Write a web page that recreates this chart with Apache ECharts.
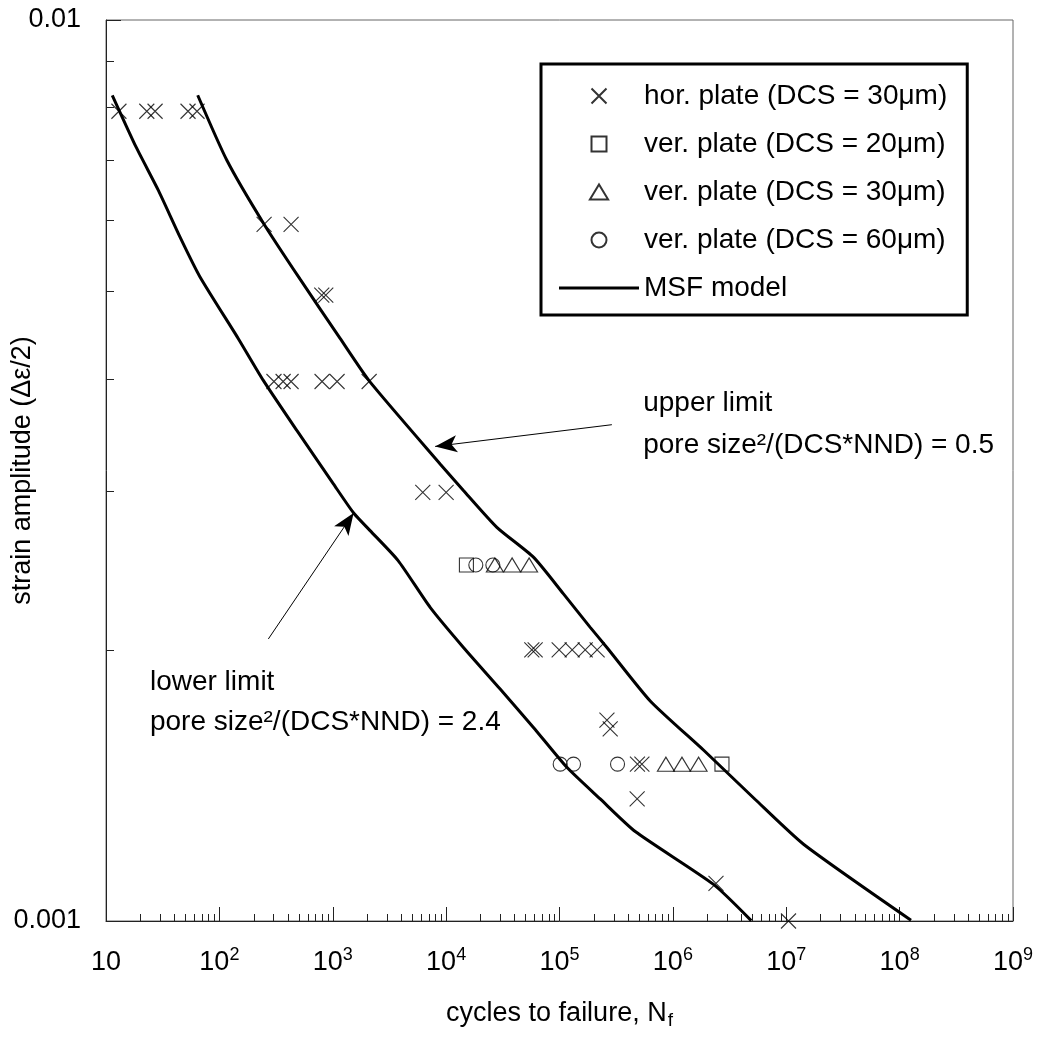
<!DOCTYPE html>
<html><head><meta charset="utf-8">
<script src="https://cdn.jsdelivr.net/npm/echarts@6/dist/echarts.min.js"></script>
<style>html,body{margin:0;padding:0;background:#fff}#c{width:1042px;height:1057px}</style>
</head><body><div id="c"></div>
<script>
// ---- data (cycles to failure N_f, strain amplitude) ----
const horN   = [13.0, 22.9, 27.1, 52.9, 63.5, 248, 429, 800, 868, 303, 365, 429, 805, 1092, 2094, 6223, 10000,
                57000, 61000, 99300, 129300, 168500, 214700, 262000, 280000, 487000, 533000, 484000, 2.4e6, 1.047e7];
const horAmp = [0.00792, 0.00792, 0.00792, 0.00792, 0.00792, 0.00593, 0.00593, 0.00495, 0.00495,
                0.00397, 0.00397, 0.00397, 0.00397, 0.00397, 0.00397, 0.00299, 0.00299,
                0.0020, 0.0020, 0.0020, 0.0020, 0.0020, 0.0020, 0.001671, 0.001634, 0.001493, 0.001493,
                0.001366, 0.001101, 0.001];
const ver20N   = [15100, 2.71e6];
const ver20Amp = [0.002484, 0.001493];
const ver30N   = [26900, 38200, 53950, 868000, 1.203e6, 1.686e6];
const ver30Amp = [0.002484, 0.002484, 0.002484, 0.001493, 0.001493, 0.001493];
const ver60N   = [18280, 25830, 101400, 132900, 325000];
const ver60Amp = [0.002484, 0.002484, 0.001493, 0.001493, 0.001493];

// MSF model, upper limit (pore size^2/(DCS*NND) = 0.5)
const upperN   = [64.4, 116.1, 247.8, 515, 1161, 2105, 8851, 14210, 28020, 58900, 108400, 186600,
                  261800, 631000, 1.891e6, 5.3e6, 1.43e7, 1.26e8];
const upperAmp = [0.00825, 0.006992, 0.005934, 0.005156, 0.004432, 0.003974, 0.003216, 0.003005, 0.002735,
                  0.002534, 0.002307, 0.002118, 0.002012, 0.001755, 0.001545, 0.001365, 0.001216, 0.001002];
// MSF model, lower limit (pore size^2/(DCS*NND) = 2.4)
const lowerN   = [11.36, 18.5, 28.9, 45.0, 67.5, 147, 244, 482, 1013, 1528, 2135, 3772, 7228, 14210, 29960,
                  58900, 116100, 228600, 465700, 2.284e6, 4.91e6];
const lowerAmp = [0.00825, 0.00722, 0.006474, 0.005742, 0.005186, 0.004429, 0.003981, 0.003503, 0.003056,
                  0.002837, 0.002712, 0.002512, 0.002229, 0.002012, 0.001809, 0.001640, 0.001481, 0.001366,
                  0.001257, 0.001098, 0.001001];

// axis ticks
const xTickLabels = ['10', '10{s|2}', '10{s|3}', '10{s|4}', '10{s|5}', '10{s|6}', '10{s|7}', '10{s|8}', '10{s|9}'];
const yTickLabels = ['0.001', '0.01'];
const xMinorTicks = [];
for (let e = 1; e < 9; e++) for (let m = 2; m <= 9; m++) xMinorTicks.push(m * Math.pow(10, e));
const yMinorTicks = [0.002, 0.003, 0.004, 0.005, 0.006, 0.007, 0.008, 0.009];

const zip = (a, b) => a.map((v, i) => [v, b[i]]);
const FONT = 'Liberation Sans';
const FS = 27;

const markerStyle = {color: 'transparent', borderColor: '#000', borderWidth: 1.1};
const crossPath = 'path://M0,0L10,10M10,0L0,10';
const rectPath = 'path://M0,0L10,0L10,10L0,10Z';
const triPath = 'path://M0,14L8.5,0L17,14Z';

const chart = echarts.init(document.getElementById('c'), null, {renderer: 'canvas'});
const option = {
  animation: false,
  backgroundColor: '#fff',
  textStyle: {fontFamily: FONT, color: '#000'},
  grid: {left: 106, right: 29, top: 20, bottom: 136, show: true, borderColor: '#666', borderWidth: 1,
         containLabel: false, outerBoundsMode: 'none'},
  legend: {
    orient: 'vertical', left: 541, top: 64,
    padding: [17, 20, 12, 18],
    borderColor: '#000', borderWidth: 3,
    itemWidth: 80, itemHeight: 15, itemGap: 18,
    textStyle: {fontFamily: FONT, fontSize: 28, color: '#000', lineHeight: 30},
    selectedMode: false,
    data: [
      {name: 'hor. plate (DCS = 30μm)', icon: crossPath},
      {name: 'ver. plate (DCS = 20μm)', icon: rectPath},
      {name: 'ver. plate (DCS = 30μm)', icon: triPath},
      {name: 'ver. plate (DCS = 60μm)', icon: 'circle'},
      {name: 'MSF model', icon: 'path://M0,0L80,0L80,3L0,3Z', itemStyle: {color: '#000', borderWidth: 0}}
    ]
  },
  xAxis: {
    type: 'log', logBase: 10, min: 10, max: 1e9, interval: 1,
    name: '{a|cycles to failure, N}{b|f}',
    nameLocation: 'middle', nameGap: 79, nameMoveOverlap: false,
    nameTextStyle: {
      rich: {
        a: {fontFamily: FONT, fontSize: FS, color: '#000', lineHeight: 30, verticalAlign: 'top'},
        b: {fontFamily: FONT, fontSize: 19, color: '#000', lineHeight: 20, verticalAlign: 'bottom', padding: [26, 0, 0, 1]}
      }
    },
    axisLine: {show: true, onZero: false, lineStyle: {color: '#222', width: 1}},
    axisTick: {show: true, inside: true, length: 14, lineStyle: {color: '#222'}},
    splitLine: {show: false},
    axisLabel: {
      margin: 25, fontFamily: FONT, fontSize: FS, color: '#000', lineHeight: 34,
      formatter: (v, i) => xTickLabels[i],
      rich: {s: {fontFamily: FONT, fontSize: 18, color: '#000', lineHeight: 18, verticalAlign: 'top'}}
    }
  },
  yAxis: {
    type: 'log', logBase: 10, min: 0.001, max: 0.01, interval: 1,
    name: 'strain amplitude (Δε/2)',
    nameLocation: 'middle', nameGap: 70, nameRotate: 90, nameMoveOverlap: false,
    nameTextStyle: {fontFamily: FONT, fontSize: FS, color: '#000'},
    axisLine: {show: true, onZero: false, lineStyle: {color: '#222', width: 1}},
    axisTick: {show: true, inside: true, length: 15, lineStyle: {color: '#222'}},
    splitLine: {show: false},
    axisLabel: {
      margin: 25, fontFamily: FONT, fontSize: FS, color: '#000', padding: [6, 0, 0, 0],
      formatter: (v, i) => yTickLabels[i]
    }
  },
  series: [
    {
      type: 'custom', silent: true, z: 5,
      data: xMinorTicks.map(v => [v, 0.001]),
      renderItem: (params, api) => {
        const p = api.coord([api.value(0), api.value(1)]);
        const x = Math.round(p[0]) + 0.5;
        return {type: 'line', shape: {x1: x, y1: p[1], x2: x, y2: p[1] - 7}, style: {stroke: '#222', lineWidth: 1}};
      }
    },
    {
      type: 'custom', silent: true, z: 5,
      data: yMinorTicks.map(v => [10, v]),
      renderItem: (params, api) => {
        const p = api.coord([api.value(0), api.value(1)]);
        const y = Math.round(p[1]) + 0.5;
        return {type: 'line', shape: {x1: p[0], y1: y, x2: p[0] + 8, y2: y}, style: {stroke: '#222', lineWidth: 1}};
      }
    },
    {
      name: 'hor. plate (DCS = 30μm)', type: 'scatter', z: 3,
      symbol: crossPath, symbolSize: 15, itemStyle: markerStyle,
      data: zip(horN, horAmp)
    },
    {
      name: 'ver. plate (DCS = 20μm)', type: 'scatter', z: 3,
      symbol: rectPath, symbolSize: 14, itemStyle: markerStyle,
      data: zip(ver20N, ver20Amp)
    },
    {
      name: 'ver. plate (DCS = 30μm)', type: 'scatter', z: 3,
      symbol: triPath, symbolSize: [17, 14], itemStyle: markerStyle,
      data: zip(ver30N, ver30Amp)
    },
    {
      name: 'ver. plate (DCS = 60μm)', type: 'scatter', z: 3,
      symbol: 'circle', symbolSize: 14, itemStyle: markerStyle,
      data: zip(ver60N, ver60Amp)
    },
    {
      name: 'MSF model', type: 'line', z: 4, symbol: 'none', showSymbol: false, smooth: 0.2,
      lineStyle: {color: '#000', width: 3}, itemStyle: {color: '#000'},
      data: zip(upperN, upperAmp),
      markLine: {
        silent: true, symbol: ['none', 'arrow'], symbolSize: [13, 22],
        lineStyle: {color: '#000', width: 1, type: 'solid'},
        label: {show: false},
        data: [
          [{coord: [289700, 0.003555]}, {coord: [8000, 0.003363]}],
          [{coord: [270.4, 0.002056]}, {coord: [1528, 0.002837]}]
        ]
      },
      markPoint: {
        silent: true, symbol: 'circle', symbolSize: 0,
        label: {show: true, position: 'right', distance: 0, fontFamily: FONT, fontSize: 28, color: '#000'},
        data: [
          {coord: [547000, 0.003754], label: {formatter: 'upper limit'}},
          {coord: [547000, 0.003372], label: {formatter: 'pore size²/(DCS*NND) = 0.5'}},
          {coord: [24.4, 0.001840], label: {formatter: 'lower limit'}},
          {coord: [24.4, 0.00166], label: {formatter: 'pore size²/(DCS*NND) = 2.4'}}
        ]
      }
    },
    {
      name: 'MSF model', type: 'line', z: 4, symbol: 'none', showSymbol: false, smooth: 0.2,
      lineStyle: {color: '#000', width: 3}, itemStyle: {color: '#000'},
      data: zip(lowerN, lowerAmp)
    }
  ]
};
chart.setOption(option);
</script>
</body></html>
